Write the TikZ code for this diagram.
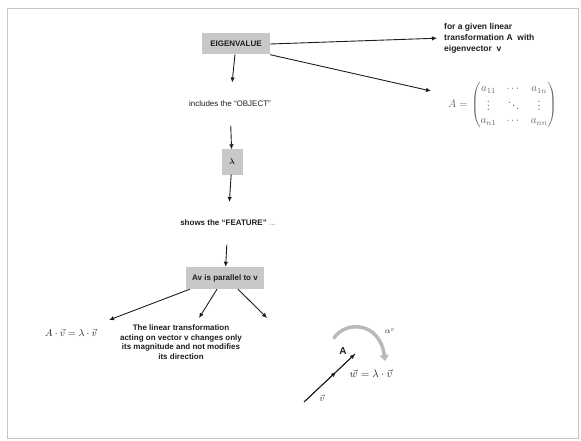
\documentclass[tikz,border=0pt]{standalone}
\usepackage{amsmath}
\usepackage{fontspec}
\setmainfont{Liberation Sans}
\usetikzlibrary{arrows.meta,calc}
\definecolor{boxgray}{RGB}{200,200,200}
\definecolor{ink}{RGB}{30,30,30}
\begin{document}
\begin{tikzpicture}[x=1pt,y=-1pt,
  every node/.style={inner sep=1pt, font=\fontsize{8}{9.5}\selectfont, text=ink},
  graybox/.style={fill=boxgray, font=\fontsize{8}{9.5}\selectfont\bfseries},
  lbl/.style={font=\fontsize{8}{9.5}\selectfont\bfseries},
  arr/.style={draw=ink, line width=0.9pt, -{Latex[length=5pt,width=4.5pt]}},
  turnarrow/.style={line width=3.5pt, draw=gray!55, line cap=round, -{Triangle[length=6pt,width=9pt]}}
]
\useasboundingbox (0,0) rectangle (581,441);
\draw[gray!45, line width=0.8pt] (7,8) rectangle (578,438);

% nodes
\node[graybox, minimum width=68pt, minimum height=21pt] (eig) at (236,44) {EIGENVALUE};
\node[lbl, align=left, anchor=west, font=\fontsize{8.5}{11}\selectfont\bfseries] (given) at (443,38) {for a given linear\\transformation A\ \ with\\eigenvector\ \ v};
\node[anchor=west, text=black!60, font=\fontsize{11}{13}\selectfont] (mat) at (447,105)
  {$A=\begin{pmatrix} a_{11} & \cdots & a_{1n}\\ \vdots & \ddots & \vdots\\ a_{n1} & \cdots & a_{nn}\end{pmatrix}$};
\node (incl) at (230,104) {includes the “OBJECT”};
\node[graybox, minimum width=21pt, minimum height=25pt] (lam) at (232,162) {$\boldsymbol{\lambda}$};
\node[lbl] (feat) at (228,223) {shows the “FEATURE” \textcolor{gray!60}{...}};
\node[graybox, minimum width=78pt, minimum height=22pt] (par) at (225,278) {Av is parallel to v};
\node[font=\fontsize{10}{12}\selectfont] (eq) at (71,333) {$A\cdot\vec{v}=\lambda\cdot\vec{v}$};
\node[lbl, align=center] (desc) at (181,342) {The linear transformation\\acting on vector v changes only\\its magnitude and not modifies\\its direction};

\coordinate (m1) at (431,91);
\coordinate (e1) at (109,320);
\coordinate (e2) at (199,318);
\coordinate (e3) at (267,318);

% connectors
\draw[arr, shorten >=6pt] (eig.east) -- (given.west);
\draw[arr] (eig.south east) -- (m1);
\draw[arr, shorten >=17.5pt] (eig) -- (incl);
\draw[arr, shorten <=17.5pt] (incl) -- (lam);
\draw[arr, shorten >=17pt] (lam) -- (feat);
\draw[arr, shorten <=17.5pt] (feat) -- (par);
\draw[arr] ($(par.south west)+(4,0)$) -- (e1);
\draw[arr] ($(par.south)+(-8,0)$) -- (e2);
\draw[arr] ($(par.south)+(13,0)$) -- (e3);

% eigenvector sketch
\coordinate (vs) at (304,402);
\coordinate (vm) at (336,372);
\coordinate (ve) at (355,354);
\draw[draw=ink, line width=0.9pt] (vs) -- (ve);
\draw[arr] (vs) -- (vm);
\draw[arr] (vm) -- (ve);
\node[font=\fontsize{10}{12}\selectfont] (alab) at (343,351) {$\mathbf{A}$};
\node[font=\fontsize{9}{11}\selectfont] (vlab) at (322,398) {$\vec{v}$};
\node[font=\fontsize{11}{13}\selectfont] (weq) at (371,374) {$\vec{w}=\lambda\cdot\vec{v}$};
\draw[turnarrow] (334,338) .. controls (346,320) and (380,322) .. (385,361);
\node (ang) at (390,331) {$\alpha^{\circ}$};
\end{tikzpicture}
\end{document}
